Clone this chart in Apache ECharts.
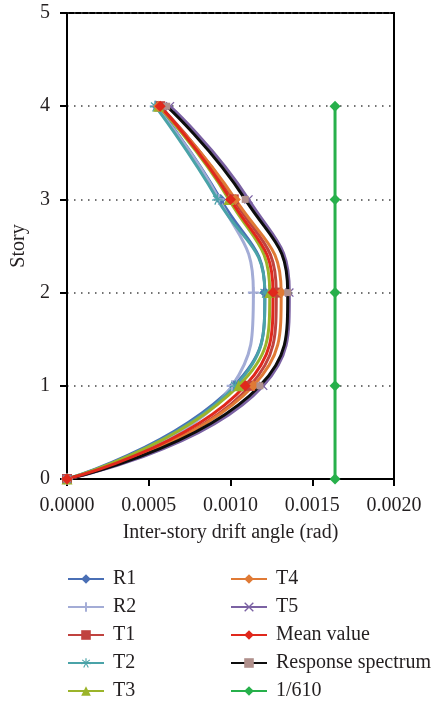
<!DOCTYPE html>
<html>
<head>
<meta charset="utf-8">
<script src="https://cdn.jsdelivr.net/npm/echarts@6/dist/echarts.min.js"></script>
<style>
  html, body { margin: 0; padding: 0; background: #fff; }
  #chart { width: 441px; height: 706px; }
</style>
</head>
<body>
<div id="chart"></div>
<script>
// story levels (y)
const stories = [0, 1, 2, 3, 4]
const yTicks = [0, 1, 2, 3, 4, 5]
const xTicks = ['0.0000', '0.0005', '0.0010', '0.0015', '0.0020']

// inter-story drift angle at each story
const r1 = [0, 0.00102, 0.00121, 0.00094, 0.00055]
const r2 = [0, 0.00101, 0.00114, 0.00093, 0.00054]
const t1 = [0, 0.00112, 0.00128, 0.00102, 0.00057]
const t2 = [0, 0.00103, 0.00121, 0.00092, 0.00054]
const t3 = [0, 0.00105, 0.00124, 0.00099, 0.00056]
const t4 = [0, 0.00114, 0.00131, 0.00103, 0.00056]
const t5 = [0, 0.00120, 0.00136, 0.00111, 0.00063]
const meanValue = [0, 0.00109, 0.00126, 0.00100, 0.00057]
const responseSpectrum = [0, 0.00118, 0.00135, 0.00109, 0.00061]
const limit610 = [1 / 610, 1 / 610, 1 / 610, 1 / 610, 1 / 610]

const FONT = '"Liberation Serif", "DejaVu Serif", serif'
const TXT = '#231f20'

const plus = 'path://M4,0 L6,0 L6,4 L10,4 L10,6 L6,6 L6,10 L4,10 L4,6 L0,6 L0,4 L4,4 Z'
const cross = 'path://M1,0 L5,4 L9,0 L10,1 L6,5 L10,9 L9,10 L5,6 L1,10 L0,9 L4,5 L0,1 Z'
const star = 'path://M4.4,0 L5.6,0 L5.6,3.6 L8.6,1.2 L9.3,2.1 L6.3,4.5 L10,5 L9.8,6.1 L6,5.6 L7.9,9.3 L6.9,9.8 L5,6.2 L3.1,9.8 L2.1,9.3 L4,5.6 L0.2,6.1 L0,5 L3.7,4.5 L0.7,2.1 L1.4,1.2 L4.4,3.6 Z'

function toPairs(xs) {
    return xs.map((x, i) => [x, stories[i]])
}

function makeSeries(name, xs, color, symbol, size, symbolColor) {
    return {
        name: name,
        type: 'line',
        smooth: 0.5,
        data: toPairs(xs),
        symbol: symbol,
        symbolSize: size,
        lineStyle: { color: color, width: 3 },
        itemStyle: { color: symbolColor || color },
        emphasis: { disabled: true }
    }
}

const legendText = { fontFamily: FONT, fontSize: 20, color: TXT, lineHeight: 18, padding: [0, 0, 0, 4] }

const chart = echarts.init(document.getElementById('chart'))
chart.setOption({
    backgroundColor: '#fff',
    animation: false,
    grid: {
        left: 67,
        right: 47,
        top: 13,
        bottom: 227,
        show: true,
        borderColor: '#000',
        borderWidth: 2,
        backgroundColor: 'transparent'
    },
    xAxis: {
        type: 'value',
        min: 0,
        max: 0.002,
        interval: 0.0005,
        name: 'Inter-story drift angle (rad)',
        nameLocation: 'middle',
        nameGap: 44,
        nameTextStyle: { fontFamily: FONT, fontSize: 20, color: TXT },
        axisLine: { show: true, lineStyle: { color: '#000', width: 2 } },
        axisTick: { show: true, length: 7, lineStyle: { color: '#000', width: 2 } },
        axisLabel: {
            fontFamily: FONT,
            fontSize: 20,
            color: TXT,
            margin: 17,
            formatter: (v) => xTicks[Math.round(v / 0.0005)]
        },
        splitLine: { show: false }
    },
    yAxis: {
        type: 'value',
        min: 0,
        max: 5,
        interval: 1,
        name: 'Story',
        nameLocation: 'middle',
        nameGap: 37,
        nameTextStyle: { fontFamily: FONT, fontSize: 20, color: TXT },
        axisLine: { show: true, lineStyle: { color: '#000', width: 2 } },
        axisTick: { show: true, length: 7, lineStyle: { color: '#000', width: 2 } },
        axisLabel: {
            fontFamily: FONT,
            fontSize: 20,
            color: TXT,
            margin: 17,
            formatter: (v) => String(yTicks[v])
        },
        splitLine: { show: true, lineStyle: { color: '#444', type: [1.5, 5.5], width: 1.5 } }
    },
    legend: [
        {
            orient: 'vertical',
            left: 67,
            top: 569,
            padding: 0,
            itemWidth: 36,
            itemHeight: 12,
            itemGap: 8,
            textStyle: legendText,
            data: ['R1', 'R2', 'T1', 'T2', 'T3']
        },
        {
            orient: 'vertical',
            left: 230,
            top: 569,
            padding: 0,
            itemWidth: 36,
            itemHeight: 12,
            itemGap: 8,
            textStyle: legendText,
            data: ['T4', 'T5', 'Mean value', 'Response spectrum', '1/610']
        }
    ],
    series: [
        makeSeries('R1', r1, '#4a6fb5', 'diamond', 11),
        makeSeries('R2', r2, '#a3acd6', plus, 11),
        makeSeries('T1', t1, '#c0433f', 'rect', 10),
        makeSeries('T2', t2, '#4aa3a8', star, 11),
        makeSeries('T3', t3, '#9bb42a', 'triangle', 11),
        makeSeries('T4', t4, '#e07a35', 'diamond', 11),
        makeSeries('T5', t5, '#7b62a3', cross, 9),
        makeSeries('Response spectrum', responseSpectrum, '#0d0d0d', 'rect', 7, '#b0908c'),
        makeSeries('Mean value', meanValue, '#e0281c', 'diamond', 11),
        makeSeries('1/610', limit610, '#27b04b', 'diamond', 11)
    ]
})
</script>
</body>
</html>
